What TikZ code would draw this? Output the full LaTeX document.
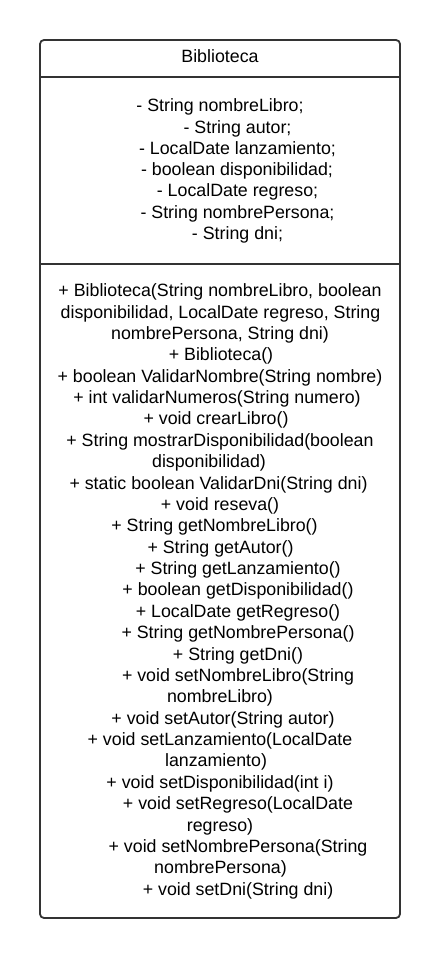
\documentclass[tikz,border=0pt]{standalone}
\usepackage{fontspec}
\newfontfamily\umlfont{Liberation Sans}
\definecolor{umlline}{HTML}{333333}

\tikzset{
  classbox/.style={draw=umlline, line width=1.8pt, rounded corners=4pt},
  divider/.style={draw=umlline, line width=1.8pt},
  member/.style={font=\umlfont\fontsize{17.8}{21.3}\selectfont, inner sep=0pt, anchor=base, text=black}
}

\begin{document}
\begin{tikzpicture}[x=1pt, y=-1pt]
    \useasboundingbox (0,0) rectangle (440,960);

    % class frame
    \coordinate (nw) at (40,40);
    \coordinate (se) at (400,918);
    \draw[classbox] (nw) rectangle (se);
    \draw[divider] (40,77) -- (400,77);
    \draw[divider] (40,264) -- (400,264);

    \node[member] (title) at (220,62.7) {Biblioteca};

    % attributes
    \node[member] (attr1) at (220,112)   {- String nombreLibro;};
    \node[member] (attr2) at (237.5,133.2) {- String autor;};
    \node[member] (attr3) at (237.5,154.4) {- LocalDate lanzamiento;};
    \node[member] (attr4) at (237,175.6) {- boolean disponibilidad;};
    \node[member] (attr5) at (237.5,196.8) {- LocalDate regreso;};
    \node[member] (attr6) at (237.5,218) {- String nombrePersona;};
    \node[member] (attr7) at (237.5,239.2) {- String dni;};

    % methods
    \node[member] (meth1)  at (220,296.7) {+ Biblioteca(String nombreLibro, boolean};
    \node[member] (meth2)  at (220.5,318.1) {disponibilidad, LocalDate regreso, String};
    \node[member] (meth3)  at (220,339.4) {nombrePersona, String dni)};
    \node[member] (meth4)  at (221,360.8) {+ Biblioteca()};
    \node[member] (meth5)  at (220,382.2) {+ boolean ValidarNombre(String nombre)};
    \node[member] (meth6)  at (217,403.5) {+ int validarNumeros(String numero)};
    \node[member] (meth7)  at (216,424.9) {+ void crearLibro()};
    \node[member] (meth8)  at (220,446.3) {+ String mostrarDisponibilidad(boolean};
    \node[member] (meth9)  at (209,467.7) {disponibilidad)};
    \node[member] (meth10) at (218.5,489) {+ static boolean ValidarDni(String dni)};
    \node[member] (meth11) at (220,510.4) {+ void reseva()};
    \node[member] (meth12) at (214.5,531.8) {+ String getNombreLibro()};
    \node[member] (meth13) at (220.5,553.1) {+ String getAutor()};
    \node[member] (meth14) at (238,574.5) {+ String getLanzamiento()};
    \node[member] (meth15) at (238,595.9) {+ boolean getDisponibilidad()};
    \node[member] (meth16) at (238,617.2) {+ LocalDate getRegreso()};
    \node[member] (meth17) at (238,638.6) {+ String getNombrePersona()};
    \node[member] (meth18) at (238,660) {+ String getDni()};
    \node[member] (meth19) at (238,681.4) {+ void setNombreLibro(String};
    \node[member] (meth20) at (220,702.7) {nombreLibro)};
    \node[member] (meth21) at (223,724.1) {+ void setAutor(String autor)};
    \node[member] (meth22) at (220,745.5) {+ void setLanzamiento(LocalDate};
    \node[member] (meth23) at (216,766.8) {lanzamiento)};
    \node[member] (meth24) at (220,788.2) {+ void setDisponibilidad(int i)};
    \node[member] (meth25) at (238,809.6) {+ void setRegreso(LocalDate};
    \node[member] (meth26) at (220,831) {regreso)};
    \node[member] (meth27) at (238,852.3) {+ void setNombrePersona(String};
    \node[member] (meth28) at (220.5,873.7) {nombrePersona)};
    \node[member] (meth29) at (238,895) {+ void setDni(String dni)};
\end{tikzpicture}
\end{document}
